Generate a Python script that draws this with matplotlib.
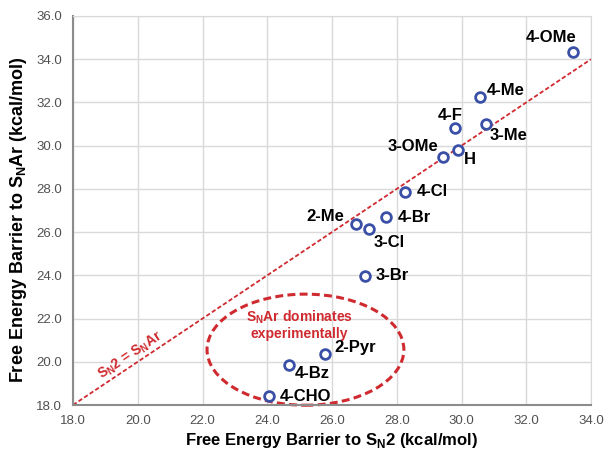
import matplotlib
matplotlib.use("Agg")
import matplotlib.pyplot as plt
from matplotlib.patches import Ellipse

plt.rcParams['font.family'] = ['Liberation Sans', 'DejaVu Sans']
plt.rcParams['mathtext.fontset'] = 'custom'
plt.rcParams['mathtext.bf'] = 'Liberation Sans:bold'
plt.rcParams['mathtext.rm'] = 'Liberation Sans:bold'

# data
labels = ['4-OMe', '4-Me', '4-F', '3-Me', 'H', '3-OMe', '4-Cl', '4-Br',
          '2-Me', '3-Cl', '3-Br', '2-Pyr', '4-Bz', '4-CHO']
sn2 = [33.43, 30.56, 29.8, 30.75, 29.88, 29.43, 28.27, 27.68,
       26.73, 27.15, 27.02, 25.78, 24.68, 24.06]
snar = [34.33, 32.24, 30.83, 31.0, 29.78, 29.49, 27.87, 26.68,
        26.36, 26.14, 23.98, 20.34, 19.87, 18.41]
# label offsets (pixels) and alignment
offsets = [(-21, 15, 'center'), (7, 7, 'left'), (-5, 12, 'center'),
           (4, -11, 'left'), (6, -9, 'left'), (-5, 10, 'right'),
           (11, 0, 'left'), (11, 0, 'left'), (-11, 8, 'right'),
           (4, -13, 'left'), (11, 0, 'left'), (9, 7, 'left'),
           (5, -9, 'left'), (11, 0, 'left')]
ticks = [18, 20, 22, 24, 26, 28, 30, 32, 34, 36]

blue = '#3a4fa6'
red = '#cf2a2f'
grid_c = '#d9d9d9'

fig = plt.figure(figsize=(6.04, 4.49), dpi=100)
ax = fig.add_axes([73 / 604, 44 / 449, 518 / 604, 389 / 449])

ax.set_xlim(18, 34)
ax.set_ylim(18, 36)
ax.set_xticks(ticks[:-1])
ax.set_yticks(ticks)
ax.set_xticklabels(['%.1f' % t for t in ticks[:-1]])
ax.set_yticklabels(['%.1f' % t for t in ticks])
ax.tick_params(length=0, labelsize=9.5, labelcolor='#505050')
ax.tick_params(axis='x', pad=7)
ax.tick_params(axis='y', pad=8)
ax.grid(True, color=grid_c, lw=1)
ax.set_axisbelow(True)
for s in ['top', 'right']:
    ax.spines[s].set_color(grid_c)
for s in ['left', 'bottom']:
    ax.spines[s].set_color('#8c8c8c')
    ax.spines[s].set_linewidth(1.5)

# SN2 = SNAr line
ax.plot([18, 34], [18, 34], color=red, lw=1.3, ls=(0, (2.4, 1.3)))
ax.text(19.78, 20.3, r'S$_\mathbf{N}$2 = S$_\mathbf{N}$Ar', color=red,
        fontsize=10, fontweight='bold', rotation=33.7,
        rotation_mode='anchor', ha='center', va='center')

# ellipse around exceptions
ell = Ellipse((25.18, 20.56), 6.08, 5.14, fill=False, edgecolor=red,
              lw=2.2, ls=(0, (2.6, 1.4)), clip_on=False)
ax.add_patch(ell)
ax.text(24.98, 21.72, 'S$_\\mathbf{N}$Ar dominates\nexperimentally', color=red,
        fontsize=10, fontweight='bold', ha='center', va='center',
        linespacing=1.1)

ax.plot(sn2, snar, 'o', ms=7, mfc='white', mec=blue, mew=2, clip_on=False)
for lab, x, y, (dx, dy, ha) in zip(labels, sn2, snar, offsets):
    ax.annotate(lab, (x, y), xytext=(dx, dy), textcoords='offset pixels',
                ha=ha, va='center', fontsize=12, fontweight='bold')

ax.set_xlabel(r'Free Energy Barrier to S$_\mathbf{N}$2 (kcal/mol)',
              fontsize=12, fontweight='bold', va='center')
ax.set_ylabel(r'Free Energy Barrier to S$_\mathbf{N}$Ar (kcal/mol)',
              fontsize=13, fontweight='bold', va='center')
ax.xaxis.set_label_coords(0.5, -0.092)
ax.yaxis.set_label_coords(-0.106, 0.476)

fig.savefig('out.png', dpi=100)
